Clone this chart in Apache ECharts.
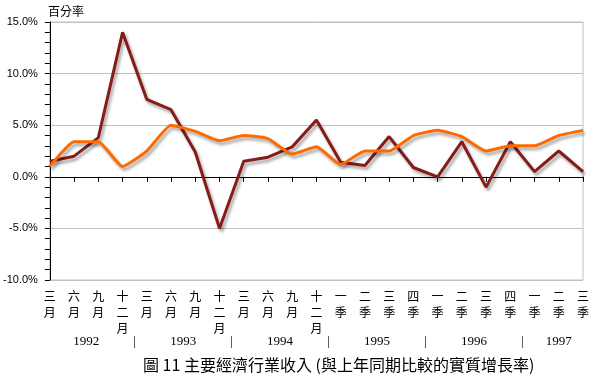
<!DOCTYPE html>
<html>
<head>
<meta charset="utf-8">
<script src="https://cdn.jsdelivr.net/npm/echarts@6/dist/echarts.min.js"></script>
<style>
  html, body { margin: 0; padding: 0; background: #fff; }
  #chartmain_line { width: 592px; height: 375px; }
</style>
</head>
<body>
<div id="chartmain_line"></div>
<script>
// 分類 (季度) 及所屬年份
const categories = ['三月', '六月', '九月', '十二月', '三月', '六月', '九月', '十二月',
    '三月', '六月', '九月', '十二月', '一季', '二季', '三季', '四季',
    '一季', '二季', '三季', '四季', '一季', '二季', '三季'];
const years = ['1992', '1992', '1992', '1992', '1993', '1993', '1993', '1993',
    '1994', '1994', '1994', '1994', '1995', '1995', '1995', '1995',
    '1996', '1996', '1996', '1996', '1997', '1997', '1997'];

// 製造業 / 整個服務業 (%)
const manufacturing = [1.5, 2.0, 3.8, 14.0, 7.5, 6.5, 2.4, -5.0,
    1.5, 1.9, 2.9, 5.5, 1.4, 1.1, 3.9, 0.9,
    0.0, 3.4, -1.0, 3.4, 0.5, 2.5, 0.5];
const services = [1.0, 3.4, 3.4, 1.0, 2.5, 5.0, 4.4, 3.5,
    4.0, 3.7, 2.2, 2.9, 1.2, 2.5, 2.5, 4.0,
    4.5, 3.9, 2.5, 3.0, 3.0, 4.0, 4.5];

const yTicks = [-10, -5, 0, 5, 10, 15];

const cjk = '"Noto Sans CJK TC", "Noto Sans CJK SC", sans-serif';

// 年份標籤位置: 各年份分類的中點, 年份之間加分隔線
const yearMarks = {};
const yearGroups = {};
years.forEach(function (y, i) {
    (yearGroups[y] = yearGroups[y] || []).push(i);
    if (i > 0 && years[i - 1] !== y) yearMarks[(i - 0.5).toFixed(1)] = '|';
});
Object.keys(yearGroups).forEach(function (y) {
    const g = yearGroups[y];
    yearMarks[((g[0] + g[g.length - 1]) / 2).toFixed(1)] = y;
});

const DOM = { line: document.getElementById('chartmain_line') };
const line = echarts.init(DOM.line);

const shadow = {
    shadowColor: 'rgba(0,0,0,0.35)',
    shadowBlur: 3,
    shadowOffsetX: 2,
    shadowOffsetY: 3
};

const option = {
    animation: false,
    title: {
        text: '圖 11 主要經濟行業收入 (與上年同期比較的實質增長率)',
        left: 138,
        top: 352,
        textStyle: { fontFamily: cjk, fontSize: 16, fontWeight: 'normal', color: '#000' }
    },
    graphic: [{
        type: 'text',
        left: 48,
        top: 5,
        style: { text: '百分率', font: '12px ' + cjk, fill: '#000' }
    }],
    grid: {
        left: 48,
        right: 5,
        top: 22,
        bottom: 95,
        show: true,
        borderColor: '#c0c0c0',
        borderWidth: 1
    },
    xAxis: [{
        type: 'category',
        boundaryGap: false,
        data: categories,
        axisLine: { lineStyle: { color: '#000', width: 1 } },
        axisTick: { show: true, length: 5, interval: 0, lineStyle: { color: '#000' } },
        axisLabel: {
            interval: 0,
            margin: 8,
            color: '#000',
            fontFamily: cjk,
            fontSize: 12,
            lineHeight: 16,
            verticalAlign: 'top',
            formatter: function (v) { return v.split('').join('\n'); }
        },
        splitLine: { show: false }
    }, {
        type: 'value',
        position: 'bottom',
        min: 0,
        max: categories.length - 1,
        interval: 0.5,
        axisLine: { show: false },
        axisTick: { show: false },
        splitLine: { show: false },
        axisLabel: {
            margin: 55,
            color: '#000',
            fontFamily: '"Liberation Serif", serif',
            fontSize: 13,
            formatter: function (v) { return yearMarks[v.toFixed(1)] || ''; }
        }
    }],
    yAxis: {
        type: 'value',
        min: yTicks[0],
        max: yTicks[yTicks.length - 1],
        interval: 5,
        axisLine: { show: true, lineStyle: { color: '#000' } },
        axisTick: { show: true, length: 5, lineStyle: { color: '#000' } },
        minorTick: { show: true, splitNumber: 5, length: 5, lineStyle: { color: '#000' } },
        axisLabel: {
            margin: 12,
            color: '#000',
            fontFamily: '"Liberation Sans", Arial, sans-serif',
            fontSize: 11,
            formatter: function (v) { return v.toFixed(1) + '%'; }
        },
        splitLine: { show: true, lineStyle: { color: '#c0c0c0', width: 1 } }
    },
    series: [{
        name: '製造業',
        type: 'line',
        xAxisIndex: 0,
        smooth: false,
        symbol: 'none',
        data: manufacturing.map(function (v, i) {
            return i === 7 ? {
                value: v,
                label: {
                    show: true, position: 'bottom', distance: 6,
                    formatter: '製造業', color: '#000', fontFamily: cjk, fontSize: 12
                }
            } : v;
        }),
        lineStyle: Object.assign({ color: '#861c18', width: 3 }, shadow)
    }, {
        name: '整個服務業',
        type: 'line',
        xAxisIndex: 0,
        smooth: 0.15,
        symbol: 'none',
        data: services.map(function (v, i) {
            return i === 8 ? {
                value: v,
                label: {
                    show: true, position: 'top', distance: 6,
                    formatter: '整個服務業', color: '#000', fontFamily: cjk, fontSize: 12
                }
            } : v;
        }),
        lineStyle: Object.assign({ color: '#ff6a00', width: 3 }, shadow)
    }]
};

function init() {
    line.setOption(option);
    window.addEventListener('resize', function () {
        line.resize();
    });
}

init();
</script>
</body>
</html>
